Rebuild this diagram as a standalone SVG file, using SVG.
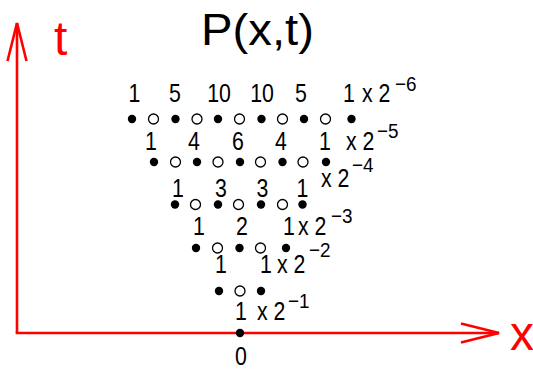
<svg xmlns="http://www.w3.org/2000/svg" width="533" height="374" viewBox="0 0 533 374">
<style>
text{font-family:"Liberation Sans",Arial,sans-serif;fill:#000}
.n{font-size:26px;text-anchor:middle}
.x{font-size:26px}
.s{font-size:21px}
.ax{stroke:#ff0000;stroke-width:2.6;fill:none}
.lab{fill:#ff0000;font-size:48px}
.f{fill:#000}
.o{fill:#fff;stroke:#000;stroke-width:1.3}
</style>
<defs>
<marker id="ah" markerUnits="userSpaceOnUse" markerWidth="44" markerHeight="26" refX="39" refY="12" orient="auto" overflow="visible">
<path d="M1,2.5 L39,12 L1,21.5" fill="none" stroke="#ff0000" stroke-width="2.6"/>
</marker>
</defs>
<rect width="533" height="374" fill="#fff"/>
<g id="connectors">
<line class="ax" x1="17" y1="333" x2="17" y2="23" marker-end="url(#ah)"/>
<line class="ax" x1="15.7" y1="333" x2="499" y2="333" marker-end="url(#ah)"/>
</g>
<g id="axis-labels">
<text class="lab" x="54" y="55">t</text>
<text class="lab" x="510" y="350">x</text>
<text x="201" y="45" font-size="44" textLength="113" lengthAdjust="spacingAndGlyphs">P(x,t)</text>
</g>
<g id="row1">
<circle class="f" cx="132" cy="119" r="4.2"/><circle class="o" cx="153.5" cy="119" r="5"/><circle class="f" cx="175.5" cy="119" r="4.2"/><circle class="o" cx="197" cy="119" r="5"/><circle class="f" cx="218" cy="119" r="4.2"/><circle class="o" cx="239.5" cy="119" r="5"/><circle class="f" cx="261.5" cy="119" r="4.2"/><circle class="o" cx="282.5" cy="119" r="5"/><circle class="f" cx="304" cy="119" r="4.2"/><circle class="o" cx="325.5" cy="119" r="5"/><circle class="f" cx="351.5" cy="119" r="4.2"/>
<text class="n" transform="translate(134.5,102) scale(.82,1)">1</text>
<text class="n" transform="translate(175,102) scale(.82,1)">5</text>
<text class="n" transform="translate(219,102) scale(.82,1)">10</text>
<text class="n" transform="translate(262,102) scale(.82,1)">10</text>
<text class="n" transform="translate(301,102) scale(.82,1)">5</text>
<text class="n" transform="translate(349,102) scale(.82,1)">1</text>
<text class="x" transform="translate(362,102) scale(.82,1)">x 2</text>
<text class="s" transform="translate(395,91) scale(.9,1)">−6</text>
</g>
<g id="row2">
<circle class="f" cx="154" cy="162" r="4.2"/><circle class="o" cx="175.5" cy="162" r="5"/><circle class="f" cx="197" cy="162" r="4.2"/><circle class="o" cx="218" cy="162" r="5"/><circle class="f" cx="240" cy="162" r="4.2"/><circle class="o" cx="260.5" cy="162" r="5"/><circle class="f" cx="282.5" cy="162" r="4.2"/><circle class="o" cx="303" cy="162" r="5"/><circle class="f" cx="326" cy="162" r="4.2"/>
<text class="n" transform="translate(151,150) scale(.82,1)">1</text>
<text class="n" transform="translate(194,150) scale(.82,1)">4</text>
<text class="n" transform="translate(238,150) scale(.82,1)">6</text>
<text class="n" transform="translate(281,150) scale(.82,1)">4</text>
<text class="n" transform="translate(325,150) scale(.82,1)">1</text>
<text class="x" transform="translate(346,150) scale(.82,1)">x 2</text>
<text class="s" transform="translate(377,138) scale(.9,1)">−5</text>
</g>
<g id="row3">
<circle class="f" cx="175" cy="204.5" r="4.2"/><circle class="o" cx="195.5" cy="204.5" r="5"/><circle class="f" cx="218" cy="204.5" r="4.2"/><circle class="o" cx="238.5" cy="204.5" r="5"/><circle class="f" cx="261" cy="204.5" r="4.2"/><circle class="o" cx="282.5" cy="204.5" r="5"/><circle class="f" cx="302.5" cy="204.5" r="4.2"/>
<text class="n" transform="translate(178,197) scale(.82,1)">1</text>
<text class="n" transform="translate(221,197) scale(.82,1)">3</text>
<text class="n" transform="translate(262.5,197) scale(.82,1)">3</text>
<text class="n" transform="translate(302.5,197) scale(.82,1)">1</text>
<text class="x" transform="translate(321,187) scale(.82,1)">x 2</text>
<text class="s" transform="translate(352,172) scale(.9,1)">−4</text>
</g>
<g id="row4">
<circle class="f" cx="196" cy="248" r="4.2"/><circle class="o" cx="217.5" cy="248" r="5"/><circle class="f" cx="239.5" cy="248" r="4.2"/><circle class="o" cx="260.5" cy="248" r="5"/><circle class="f" cx="286" cy="248" r="4.2"/>
<text class="n" transform="translate(199,235) scale(.82,1)">1</text>
<text class="n" transform="translate(242,235) scale(.82,1)">2</text>
<text class="n" transform="translate(289,235) scale(.82,1)">1</text>
<text class="x" transform="translate(298,235) scale(.82,1)">x 2</text>
<text class="s" transform="translate(331,223) scale(.9,1)">−3</text>
</g>
<g id="row5">
<circle class="f" cx="219" cy="291" r="4.2"/><circle class="o" cx="240" cy="291" r="5"/><circle class="f" cx="261" cy="291" r="4.2"/>
<text class="n" transform="translate(221,273) scale(.82,1)">1</text>
<text class="n" transform="translate(266,273) scale(.82,1)">1</text>
<text class="x" transform="translate(277,273) scale(.82,1)">x 2</text>
<text class="s" transform="translate(309,257) scale(.9,1)">−2</text>
</g>
<g id="row6">
<circle class="f" cx="240" cy="333" r="4.2"/>
<text class="n" transform="translate(241,320) scale(.82,1)">1</text>
<text class="x" transform="translate(257,320) scale(.82,1)">x 2</text>
<text class="s" transform="translate(288,308) scale(.9,1)">−1</text>
<text class="n" transform="translate(241,365) scale(.82,1)">0</text>
</g>
</svg>
